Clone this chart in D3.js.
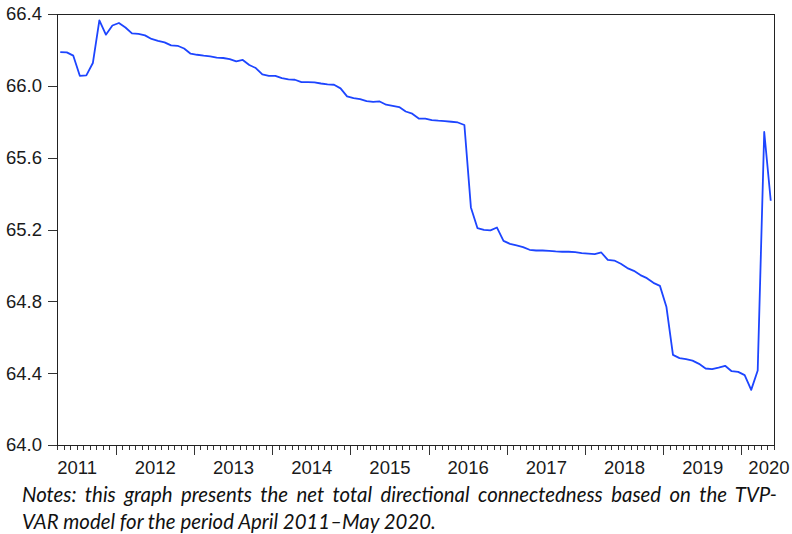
<!DOCTYPE html>
<html>
<head>
<meta charset="utf-8">
<script src="https://cdn.jsdelivr.net/npm/d3@7/dist/d3.min.js"></script>
<style>
  html, body { margin: 0; padding: 0; background: #fff; }
  svg { display: block; }
  .axis text { font-family: "Liberation Sans", Arial, sans-serif; font-size: 18.5px; fill: #1a1a1a; }
  .axis path, .axis line { stroke: #333; stroke-width: 1; shape-rendering: crispEdges; }
  .note { font-family: Lato, "Open Sans", sans-serif; font-style: italic; font-size: 20.4px; fill: #111; }
</style>
</head>
<body>
<div id="chart"></div>
<script>
// first observation: April 2011 (month index 3), last: May 2020
const startYear = 2011;
const startMonth = 3;

// net total directional connectedness, monthly
const values = [
  66.188, 66.186, 66.168, 66.056, 66.058, 66.127, 66.364, 66.285, 66.336, 66.350,
  66.325, 66.292, 66.289, 66.281, 66.261, 66.251, 66.242, 66.225, 66.223, 66.208,
  66.179, 66.173, 66.168, 66.164, 66.157, 66.155, 66.149, 66.136, 66.144, 66.116,
  66.099, 66.064, 66.056, 66.055, 66.043, 66.036, 66.034, 66.021, 66.021, 66.019,
  66.013, 66.008, 66.006, 65.986, 65.941, 65.932, 65.926, 65.915, 65.911, 65.913,
  65.895, 65.889, 65.882, 65.857, 65.845, 65.818, 65.817, 65.809, 65.806, 65.804,
  65.800, 65.796, 65.782, 65.323, 65.208, 65.198, 65.195, 65.211, 65.137, 65.120,
  65.111, 65.102, 65.087, 65.083, 65.083, 65.081, 65.078, 65.076, 65.076, 65.074,
  65.069, 65.066, 65.063, 65.072, 65.031, 65.027, 65.009, 64.985, 64.970, 64.946,
  64.929, 64.903, 64.886, 64.768, 64.502, 64.484, 64.478, 64.470, 64.452, 64.426,
  64.422, 64.431, 64.441, 64.411, 64.407, 64.389, 64.307, 64.415, 65.743, 65.360
];

const yTicks = [64.0, 64.4, 64.8, 65.2, 65.6, 66.0, 66.4];
const yearLabels = ['2011', '2012', '2013', '2014', '2015', '2016', '2017', '2018', '2019', '2020'];

const noteLine1 = 'Notes: this graph presents the net total directional connectedness based on the TVP-';
const noteLine2 = 'VAR model for the period April 2011\u2013May 2020.';

const width = 792;
const height = 534;
const margin = { top: 14, right: 18, bottom: 89, left: 57 };

const svg = d3.select('#chart')
  .append('svg')
  .attr('width', width)
  .attr('height', height);

const n = values.length;

// one slot per month, points in the middle of the slot
const xScale = d3.scaleLinear()
  .domain([0, n])
  .range([margin.left, width - margin.right]);

const yScale = d3.scaleLinear()
  .domain([64.0, 66.4])
  .range([height - margin.bottom, margin.top]);

const plotBottom = height - margin.bottom;

// month boundaries and year starts
const monthEdges = d3.range(0, n + 1);
const yearEdges = monthEdges.filter(k => (k + startMonth) % 12 === 0);

// minor monthly ticks
svg.append('g')
  .attr('class', 'axis')
  .attr('transform', `translate(0, ${plotBottom})`)
  .call(d3.axisBottom(xScale).tickValues(monthEdges).tickSize(5).tickSizeOuter(0).tickFormat(''));

// major yearly ticks
svg.append('g')
  .attr('class', 'axis')
  .attr('transform', `translate(0, ${plotBottom})`)
  .call(d3.axisBottom(xScale).tickValues(yearEdges).tickSize(10).tickSizeOuter(0).tickFormat(''))
  .select('.domain').remove();

// year labels centred on each calendar year
const yearMids = yearLabels.map((y, i) => i * 12 - startMonth + 6);
const xLabels = svg.append('g')
  .attr('class', 'axis')
  .attr('transform', `translate(0, ${plotBottom})`)
  .call(d3.axisBottom(xScale).tickValues(yearMids).tickSize(0).tickPadding(16)
    .tickFormat((d, i) => yearLabels[i]));
xLabels.select('.domain').remove();
xLabels.selectAll('text').attr('dy', '0.71em');
// keep the last label inside the page
xLabels.selectAll('.tick').each(function (d) {
  const t = d3.select(this).select('text');
  const w = t.node().getComputedTextLength();
  const cx = xScale(d);
  if (cx + w / 2 > width - 3) {
    t.attr('x', (width - 3 - w / 2) - cx);
  }
});

// left axis
svg.append('g')
  .attr('class', 'axis')
  .attr('transform', `translate(${margin.left}, 0)`)
  .call(d3.axisLeft(yScale).tickValues(yTicks).tickSize(9).tickSizeOuter(0).tickPadding(6)
    .tickFormat(d3.format('.1f')));

// frame
svg.append('rect')
  .attr('x', margin.left + 0.5)
  .attr('y', margin.top + 0.5)
  .attr('width', width - margin.right - margin.left - 0.5)
  .attr('height', plotBottom - margin.top)
  .style('fill', 'none')
  .style('stroke', '#222')
  .style('stroke-width', 1)
  .style('shape-rendering', 'crispEdges');

// series
const line = d3.line()
  .x((d, i) => xScale(i + 0.5))
  .y(d => yScale(d));

svg.append('path')
  .datum(values)
  .attr('d', line)
  .style('fill', 'none')
  .style('stroke', '#1d45ff')
  .style('stroke-width', 1.8)
  .style('stroke-linejoin', 'round');

// notes under the chart, first line justified
const noteLeft = 22;
const noteRight = 777;
const n1 = svg.append('text')
  .attr('class', 'note')
  .attr('x', noteLeft)
  .attr('y', 502)
  .text(noteLine1);
const natural = n1.node().getComputedTextLength();
const spaces = noteLine1.split(' ').length - 1;
n1.style('word-spacing', ((noteRight - noteLeft - natural) / spaces) + 'px');

svg.append('text')
  .attr('class', 'note')
  .attr('x', noteLeft)
  .attr('y', 529)
  .text(noteLine2);
</script>
</body>
</html>
